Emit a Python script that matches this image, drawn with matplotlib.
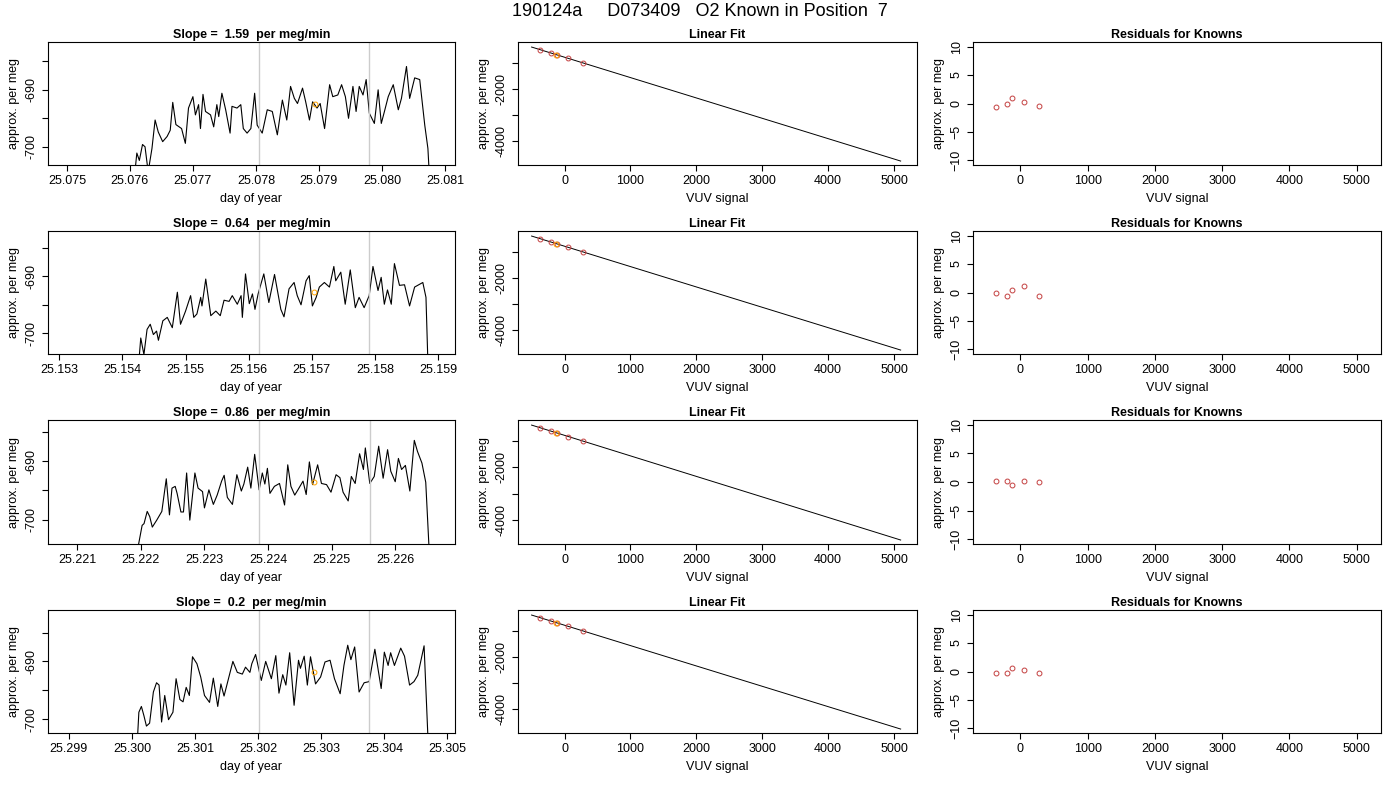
import numpy as np
import matplotlib
matplotlib.use("Agg")
import matplotlib.pyplot as plt

plt.rcParams["font.family"] = ["Liberation Sans", "DejaVu Sans"]

# --- data ---
slopes = ["1.59", "0.64", "0.86", "0.2"]

t1 = [25.07608, 25.07611, 25.07615, 25.07620, 25.07624, 25.07629, 25.07635, 25.07640, 25.07645, 25.07652,
      25.07659, 25.07664, 25.07668, 25.07673, 25.07682, 25.07688, 25.07693, 25.07700, 25.07704, 25.07709,
      25.07712, 25.07716, 25.07720, 25.07728, 25.07733, 25.07738, 25.07741, 25.07746, 25.07752, 25.07759,
      25.07762, 25.07770, 25.07776, 25.07780, 25.07786, 25.07792, 25.07798, 25.07802, 25.07810, 25.07818,
      25.07826, 25.07834, 25.07842, 25.07849, 25.07855, 25.07861, 25.07866, 25.07874, 25.07879, 25.07885,
      25.07890, 25.07897, 25.07902, 25.07909, 25.07917, 25.07922, 25.07930, 25.07936, 25.07942, 25.07947,
      25.07954, 25.07959, 25.07964, 25.07970, 25.07975, 25.07980, 25.07988, 25.07994, 25.07999, 25.08004,
      25.08010, 25.08018, 25.08026, 25.08031, 25.08039, 25.08044, 25.08052, 25.08060, 25.08068, 25.08073,
      25.08075]
v1 = [-704.4, -701.1, -702.4, -699.6, -700.0, -704.4, -700.3, -695.3, -697.4, -699.1,
      -698.2, -697.1, -692.2, -696.1, -696.8, -699.4, -693.2, -691.2, -694.4, -692.6,
      -696.8, -690.8, -693.8, -694.4, -696.5, -692.6, -694.7, -690.6, -693.5, -697.6,
      -692.9, -693.2, -692.6, -696.8, -697.6, -696.8, -690.6, -696.2, -697.6, -693.5,
      -693.8, -697.9, -691.8, -695.3, -689.4, -691.5, -692.4, -689.7, -692.1, -695.3,
      -692.1, -693.2, -692.4, -696.8, -689.1, -691.2, -690.9, -689.1, -691.2, -695.0,
      -689.4, -693.8, -689.4, -690.9, -688.2, -694.1, -695.9, -690.0, -695.9, -693.8,
      -691.2, -689.1, -693.5, -691.5, -685.9, -691.5, -687.9, -688.2, -696.2, -700.3,
      -704.4]

t2 = [25.15426, 25.15429, 25.15434, 25.15439, 25.15444, 25.15449, 25.15454, 25.15457, 25.15464, 25.15471,
      25.15479, 25.15487, 25.15492, 25.15500, 25.15508, 25.15513, 25.15518, 25.15524, 25.15526, 25.15532,
      25.15540, 25.15548, 25.15555, 25.15561, 25.15569, 25.15574, 25.15582, 25.15588, 25.15590, 25.15595,
      25.15601, 25.15606, 25.15610, 25.15615, 25.15624, 25.15632, 25.15641, 25.15651, 25.15656, 25.15664,
      25.15672, 25.15677, 25.15683, 25.15691, 25.15696, 25.15701, 25.15707, 25.15712, 25.15720, 25.15728,
      25.15735, 25.15738, 25.15746, 25.15753, 25.15761, 25.15769, 25.15775, 25.15783, 25.15791, 25.15797,
      25.15805, 25.15810, 25.15815, 25.15820, 25.15826, 25.15831, 25.15839, 25.15847, 25.15855, 25.15863,
      25.15876, 25.15881, 25.15884]
v2 = [-704.9, -700.8, -703.7, -699.3, -698.4, -700.2, -699.6, -701.2, -697.8, -697.2,
      -699.0, -692.8, -698.4, -696.1, -693.4, -697.2, -696.6, -693.7, -695.2, -690.5,
      -696.9, -696.1, -696.9, -694.2, -694.4, -693.4, -694.9, -693.4, -697.2, -689.6,
      -694.8, -693.1, -695.8, -693.1, -689.6, -694.6, -689.7, -695.8, -697.1, -692.2,
      -691.1, -693.4, -695.0, -690.8, -689.9, -695.2, -693.7, -691.9, -691.1, -691.9,
      -688.3, -690.8, -689.3, -694.9, -688.9, -695.5, -693.7, -695.5, -693.4, -688.3,
      -692.5, -690.2, -694.9, -692.4, -694.9, -687.8, -691.6, -691.5, -695.2, -691.9,
      -691.1, -693.7, -704.9]

t3 = [25.22196, 25.22202, 25.22205, 25.22210, 25.22214, 25.22218, 25.22225, 25.22233, 25.22240, 25.22245,
      25.22249, 25.22254, 25.22257, 25.22263, 25.22267, 25.22272, 25.22277, 25.22285, 25.22290, 25.22297,
      25.22300, 25.22307, 25.22314, 25.22320, 25.22327, 25.22331, 25.22336, 25.22344, 25.22351, 25.22358,
      25.22362, 25.22368, 25.22373, 25.22379, 25.22386, 25.22391, 25.22395, 25.22399, 25.22403, 25.22410,
      25.22418, 25.22426, 25.22431, 25.22436, 25.22442, 25.22447, 25.22455, 25.22460, 25.22465, 25.22470,
      25.22478, 25.22484, 25.22492, 25.22499, 25.22507, 25.22513, 25.22518, 25.22526, 25.22531, 25.22537,
      25.22544, 25.22550, 25.22553, 25.22560, 25.22567, 25.22574, 25.22581, 25.22588, 25.22593, 25.22600,
      25.22605, 25.22610, 25.22616, 25.22623, 25.22630, 25.22635, 25.22642, 25.22648, 25.22653]
v3 = [-704.5, -701.0, -700.7, -698.6, -699.5, -701.3, -700.1, -698.6, -693.0, -699.2,
      -694.6, -694.3, -695.5, -698.7, -698.7, -692.0, -700.1, -692.0, -694.6, -695.2,
      -698.0, -694.9, -697.4, -695.8, -693.4, -692.4, -696.2, -697.4, -692.3, -695.1,
      -693.9, -691.0, -694.6, -688.8, -694.9, -692.0, -693.9, -691.2, -695.5, -694.3,
      -693.8, -697.5, -690.6, -694.3, -695.8, -694.9, -693.4, -695.7, -690.1, -694.0,
      -690.6, -693.8, -694.0, -695.3, -692.3, -692.8, -695.3, -696.8, -692.6, -693.8,
      -688.7, -691.4, -687.7, -693.8, -692.6, -687.4, -692.9, -688.0, -691.7, -693.5,
      -689.5, -691.4, -690.7, -695.1, -686.4, -688.3, -690.3, -693.6, -704.5]

t4 = [25.30009, 25.30011, 25.30015, 25.30019, 25.30023, 25.30028, 25.30034, 25.30039, 25.30043, 25.30047,
      25.30052, 25.30058, 25.30065, 25.30070, 25.30076, 25.30081, 25.30086, 25.30091, 25.30096, 25.30103,
      25.30109, 25.30115, 25.30123, 25.30129, 25.30136, 25.30141, 25.30146, 25.30153, 25.30160, 25.30167,
      25.30175, 25.30180, 25.30187, 25.30190, 25.30196, 25.30205, 25.30212, 25.30221, 25.30228, 25.30233,
      25.30239, 25.30244, 25.30250, 25.30257, 25.30264, 25.30267, 25.30273, 25.30278, 25.30283, 25.30291,
      25.30299, 25.30306, 25.30314, 25.30321, 25.30330, 25.30336, 25.30342, 25.30347, 25.30353, 25.30360,
      25.30368, 25.30376, 25.30385, 25.30395, 25.30400, 25.30406, 25.30410, 25.30416, 25.30426, 25.30432,
      25.30440, 25.30447, 25.30453, 25.30463, 25.30469]
v4 = [-702.9, -698.8, -697.8, -699.4, -701.2, -700.7, -695.3, -693.7, -694.1, -700.5,
      -695.9, -700.1, -698.8, -693.0, -696.6, -697.0, -694.5, -695.9, -689.2, -690.4,
      -692.7, -695.9, -697.1, -692.9, -697.8, -693.9, -696.0, -693.0, -690.0, -691.9,
      -692.2, -691.0, -691.9, -690.4, -688.8, -693.3, -690.0, -693.0, -689.0, -695.5,
      -692.3, -694.1, -688.5, -697.6, -689.8, -691.2, -689.1, -694.1, -689.2, -693.9,
      -692.7, -690.1, -689.8, -693.0, -695.6, -690.7, -687.2, -689.7, -687.5, -695.3,
      -693.7, -693.5, -687.9, -694.7, -688.4, -690.7, -688.5, -690.7, -687.7, -689.1,
      -694.1, -693.5, -692.4, -687.3, -702.9]

times = [t1, t2, t3, t4]
values = [v1, v2, v3, v4]
sample_t = [25.07893, 25.15704, 25.22473, 25.30289]
sample_v = [-692.5, -692.8, -693.6, -691.9]
win_start = [25.07805, 25.15616, 25.22386, 25.30201]
win_end = [25.07980, 25.15791, 25.22560, 25.30376]
ts_xlim = [(25.07470, 25.08116), (25.15282, 25.15927), (25.22054, 25.22694), (25.29867, 25.30512)]
ts_ylim = [(-703.2, -681.6), (-703.6, -682.1), (-704.2, -682.9), (-702.4, -681.1)]
ts_ticks = [[25.075, 25.076, 25.077, 25.078, 25.079, 25.080, 25.081],
            [25.153, 25.154, 25.155, 25.156, 25.157, 25.158, 25.159],
            [25.221, 25.222, 25.223, 25.224, 25.225, 25.226],
            [25.299, 25.300, 25.301, 25.302, 25.303, 25.304, 25.305]]

known_x = [-370, -200, -120, 60, 280]
fit_slope = -0.776
fit_icept = -796
fit_range = [-500, 5100]
sample_x = -125
residuals = [[-0.6, -0.1, 0.9, 0.3, -0.5],
             [-0.1, -0.6, 0.5, 1.2, -0.7],
             [0.2, 0.1, -0.5, 0.2, 0.0],
             [-0.3, -0.2, 0.7, 0.3, -0.3]]

W, H = 1400, 800
fig = plt.figure(figsize=(14, 8), dpi=100)
fig.text(0.5, 1 - 12 / H, "190124a     D073409   O2 Known in Position  7",
         ha="center", va="center", fontsize=13)

cols = [(48, 455), (518, 917), (973, 1381)]
rows = [(42, 165), (231, 354), (420, 544), (610, 733)]
RED = "#c44040"
MK = dict(mfc="none", ms=3.5, mew=0.7, ls="none")


def rect(c, r):
    x0, x1 = c
    y0, y1 = r
    return [x0 / W, 1 - y1 / H, (x1 - x0) / W, (y1 - y0) / H]


def style(ax):
    ax.tick_params(labelsize=9, direction="out", length=4)
    for lab in ax.get_yticklabels():
        lab.set_rotation(90)
        lab.set_va("center")
    for s in ax.spines.values():
        s.set_linewidth(0.8)


for i in range(4):
    # time series
    ax = fig.add_axes(rect(cols[0], rows[i]))
    ax.plot(times[i], values[i], color="black", lw=0.8)
    ax.axvline(win_start[i], color="#cccccc", lw=1)
    ax.axvline(win_end[i], color="#cccccc", lw=1)
    ax.plot(sample_t[i], sample_v[i], marker="o", mec="orange", **MK)
    ax.set_xlim(*ts_xlim[i])
    ax.set_ylim(*ts_ylim[i])
    ax.set_xticks(ts_ticks[i])
    ax.set_xticklabels(["%.3f" % v for v in ts_ticks[i]])
    ax.set_yticks([-700, -695, -690, -685])
    ax.set_yticklabels(["-700", "", "-690", ""])
    ax.set_xlabel("day of year", fontsize=9)
    ax.set_ylabel("approx. per meg", fontsize=9)
    ax.set_title("Slope =  %s  per meg/min" % slopes[i], fontsize=9, fontweight="bold", pad=3)
    style(ax)

    # linear fit
    ax = fig.add_axes(rect(cols[1], rows[i]))
    lx = np.array(fit_range)
    ax.plot(lx, fit_icept + fit_slope * lx, color="black", lw=0.7)
    ky = [fit_icept + fit_slope * x + r for x, r in zip(known_x, residuals[i])]
    ax.plot(known_x, ky, marker="o", mec=RED, **MK)
    ax.plot(sample_x, fit_icept + fit_slope * sample_x, marker="o", mec="orange", **MK)
    ax.set_xlim(-706, 5348)
    ax.set_ylim(-4904, -216)
    ax.set_xticks([0, 1000, 2000, 3000, 4000, 5000])
    ax.set_yticks([-1000, -2000, -3000, -4000])
    ax.set_yticklabels(["", "-2000", "", "-4000"])
    ax.set_xlabel("VUV signal", fontsize=9)
    ax.set_ylabel("approx. per meg", fontsize=9)
    ax.set_title("Linear Fit", fontsize=9, fontweight="bold", pad=3)
    style(ax)

    # residuals
    ax = fig.add_axes(rect(cols[2], rows[i]))
    ax.plot(known_x, residuals[i], marker="o", mec=RED, **MK)
    ax.set_xlim(-706, 5363)
    ax.set_ylim(-10.8, 10.8)
    ax.set_xticks([0, 1000, 2000, 3000, 4000, 5000])
    ax.set_yticks([-10, -5, 0, 5, 10])
    ax.set_xlabel("VUV signal", fontsize=9)
    ax.set_ylabel("approx. per meg", fontsize=9)
    ax.set_title("Residuals for Knowns", fontsize=9, fontweight="bold", pad=3)
    style(ax)

fig.savefig("out.png", dpi=100)
